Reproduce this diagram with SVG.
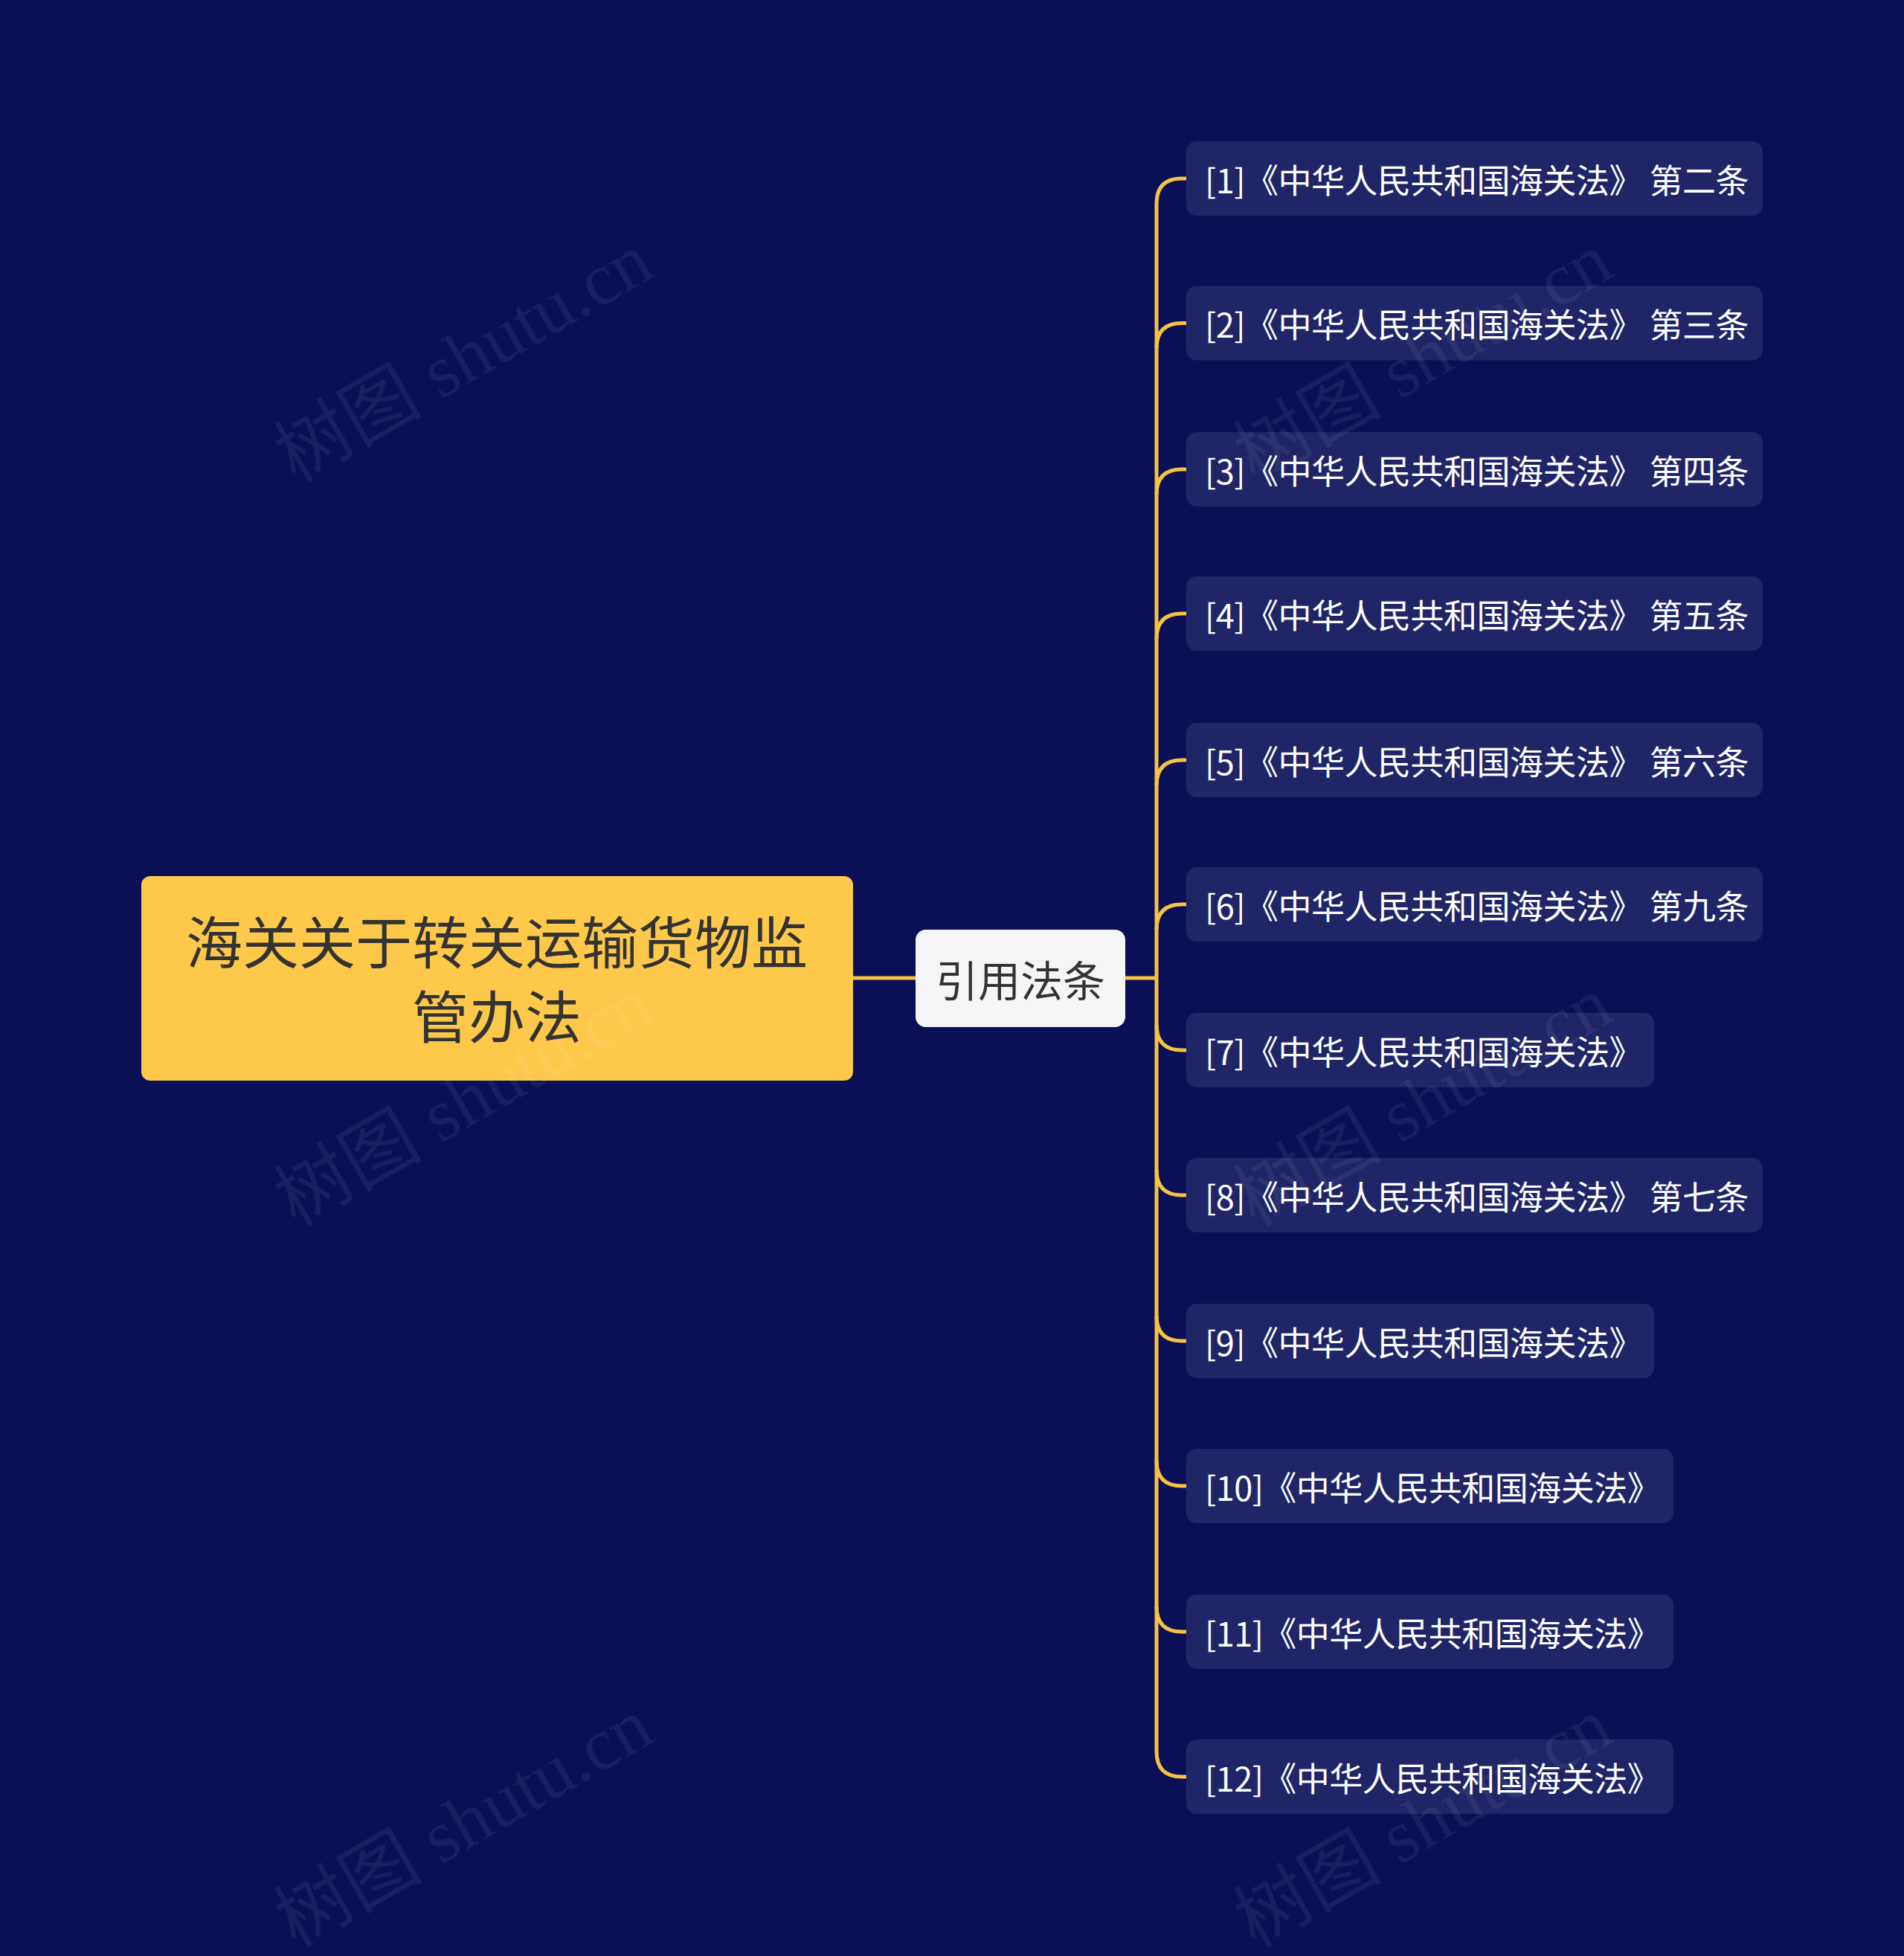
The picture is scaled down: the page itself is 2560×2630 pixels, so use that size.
<svg xmlns="http://www.w3.org/2000/svg" width="2560" height="2630" viewBox="0 0 2560 2630">
<style>
.leaf rect{fill:#1f2567}
.leaf text{fill:#ffffff;font-family:"Noto Sans CJK SC","Noto Sans",sans-serif;font-size:45px;dominant-baseline:central;letter-spacing:-0.5px}
.wm{fill:#ffffff;opacity:0.06;font-family:"Liberation Serif","Noto Sans CJK SC",serif;font-size:100px;text-anchor:middle}
.con path{fill:none;stroke:#f5c342;stroke-width:5}
</style>
<rect width="2560" height="2630" fill="#0a0f56"/>
<g class="con">
<path d="M1147 1315 H1231"/>
<path d="M1513 1315 H1555"/>
<path d="M1595 240 H1589 Q1555 240 1555 274 V2355 Q1555 2389 1589 2389 H1595"/>
<path d="M1555 468 Q1555 434.5 1589 434.5 H1595"/>
<path d="M1555 665 Q1555 631 1589 631 H1595"/>
<path d="M1555 859 Q1555 825 1589 825 H1595"/>
<path d="M1555 1056 Q1555 1022 1589 1022 H1595"/>
<path d="M1555 1250 Q1555 1216 1589 1216 H1595"/>
<path d="M1555 1378 Q1555 1412 1589 1412 H1595"/>
<path d="M1555 1573 Q1555 1607 1589 1607 H1595"/>
<path d="M1555 1769 Q1555 1803 1589 1803 H1595"/>
<path d="M1555 1964 Q1555 1998 1589 1998 H1595"/>
<path d="M1555 2160 Q1555 2194 1589 2194 H1595"/>
</g>
<g id="root"><rect x="190" y="1178" width="957" height="275" rx="12" fill="#fec84a"/>
<text x="668" y="1263" text-anchor="middle" font-family="Noto Sans CJK SC,sans-serif" font-size="76" fill="#333" dominant-baseline="central">海关关于转关运输货物监</text>
<text x="668" y="1363" text-anchor="middle" font-family="Noto Sans CJK SC,sans-serif" font-size="76" fill="#333" dominant-baseline="central">管办法</text></g>
<g id="mid"><rect x="1231" y="1250" width="282" height="131" rx="14" fill="#f5f5f7"/>
<text x="1372" y="1315" text-anchor="middle" font-family="Noto Sans CJK SC,sans-serif" font-size="57" fill="#333" dominant-baseline="central">引用法条</text></g>
<g id="n1" class="leaf"><rect x="1595" y="190" width="775" height="100" rx="14"/><text x="1620" y="240">[1]《中华人民共和国海关法》 第二条</text></g>
<g id="n2" class="leaf"><rect x="1595" y="384.5" width="775" height="100" rx="14"/><text x="1620" y="434.5">[2]《中华人民共和国海关法》 第三条</text></g>
<g id="n3" class="leaf"><rect x="1595" y="581" width="775" height="100" rx="14"/><text x="1620" y="631">[3]《中华人民共和国海关法》 第四条</text></g>
<g id="n4" class="leaf"><rect x="1595" y="775" width="775" height="100" rx="14"/><text x="1620" y="825">[4]《中华人民共和国海关法》 第五条</text></g>
<g id="n5" class="leaf"><rect x="1595" y="972" width="775" height="100" rx="14"/><text x="1620" y="1022">[5]《中华人民共和国海关法》 第六条</text></g>
<g id="n6" class="leaf"><rect x="1595" y="1166" width="775" height="100" rx="14"/><text x="1620" y="1216">[6]《中华人民共和国海关法》 第九条</text></g>
<g id="n7" class="leaf"><rect x="1595" y="1362" width="629" height="100" rx="14"/><text x="1620" y="1412">[7]《中华人民共和国海关法》</text></g>
<g id="n8" class="leaf"><rect x="1595" y="1557" width="775" height="100" rx="14"/><text x="1620" y="1607">[8]《中华人民共和国海关法》 第七条</text></g>
<g id="n9" class="leaf"><rect x="1595" y="1753" width="629" height="100" rx="14"/><text x="1620" y="1803">[9]《中华人民共和国海关法》</text></g>
<g id="n10" class="leaf"><rect x="1595" y="1948" width="655" height="100" rx="14"/><text x="1620" y="1998">[10]《中华人民共和国海关法》</text></g>
<g id="n11" class="leaf"><rect x="1595" y="2144" width="655" height="100" rx="14"/><text x="1620" y="2194">[11]《中华人民共和国海关法》</text></g>
<g id="n12" class="leaf"><rect x="1595" y="2339" width="655" height="100" rx="14"/><text x="1620" y="2389">[12]《中华人民共和国海关法》</text></g>
<g>
<text class="wm" transform="translate(640,510) rotate(-30)">树图 shutu.cn</text>
<text class="wm" transform="translate(640,1510) rotate(-30)">树图 shutu.cn</text>
<text class="wm" transform="translate(640,2480) rotate(-30)">树图 shutu.cn</text>
<text class="wm" transform="translate(1930,510) rotate(-30)">树图 shutu.cn</text>
<text class="wm" transform="translate(1930,1510) rotate(-30)">树图 shutu.cn</text>
<text class="wm" transform="translate(1930,2480) rotate(-30)">树图 shutu.cn</text>
</g>
</svg>
